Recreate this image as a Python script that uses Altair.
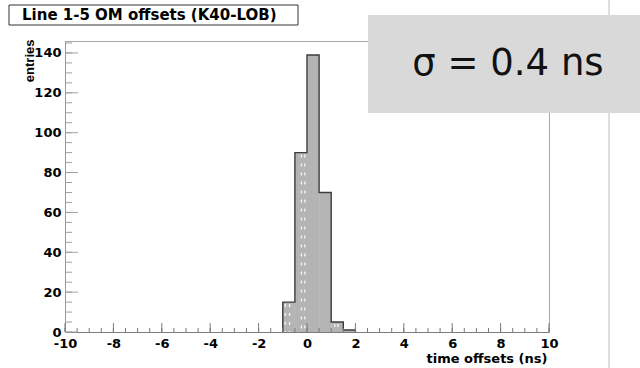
import altair as alt
import numpy as np
import pandas as pd

# Histogram of time offsets: lower bin edges (ns) and entries per bin
bin_lo = [-1.0, -0.5, 0.0, 0.5, 1.0, 1.5]
bin_counts = [15, 90, 139, 70, 5, 1]
bin_width = 0.5

# Light dashed streaks running through some of the bars
streak_x = [-0.9, -0.72, -0.23, -0.09, 1.15, 1.28]
streak_top = [14, 14, 89, 89, 4, 4]

# Axis labels and tick marks
x_labels = [-10, -8, -6, -4, -2, 0, 2, 4, 6, 8, 10]
y_labels = [0, 20, 40, 60, 80, 100, 120, 140]
x_minor = list(np.arange(-10, 10.01, 0.5))
y_minor = list(range(0, 146, 5))

title_text = "Line 1-5 OM offsets (K40-LOB)"
sigma_text = "σ = 0.4 ns"

W, H = 484, 291
FONT = "DejaVu Sans"
YFONT = "Liberation Sans"

bars = pd.DataFrame({
    "lo": bin_lo,
    "hi": [v + bin_width for v in bin_lo],
    "n": bin_counts,
})

# Step outline of the histogram
ox = [bin_lo[0]] + bin_lo + [bin_lo[-1] + bin_width]
oy = [0] + bin_counts + [0]
outline = pd.DataFrame({"x": ox, "y": oy, "i": range(len(ox))})

streaks = pd.DataFrame({"x": streak_x, "top": streak_top})

x_scale = alt.Scale(domain=[-10, 10], nice=False, zero=False)
y_scale = alt.Scale(domain=[0, 146], nice=False)

hist = alt.Chart(bars).mark_rect(color="#b4b4b4").encode(
    x=alt.X("lo:Q", scale=x_scale, axis=alt.Axis(
        values=x_labels, ticks=False, grid=False,
        domainColor="#7a7a7a", domainWidth=1,
        labelFont=FONT, labelFontWeight="bold", labelFontSize=13,
        labelColor="#000000", labelPadding=5, labelFlush=False,
        labelExpr="'' + datum.value",
        title="time offsets (ns)", titleFont=FONT, titleFontWeight="bold",
        titleFontSize=13, titleColor="#000000", titleAlign="right",
        titleAnchor="end", titleX=482, titleY=30, titleBaseline="alphabetic",
    )),
    x2="hi:Q",
    y=alt.Y("n:Q", scale=y_scale, axis=alt.Axis(
        values=y_labels, ticks=False, grid=False,
        domainColor="#9a9a9a", domainWidth=1,
        labelFont=FONT, labelFontWeight="bold", labelFontSize=13,
        labelColor="#000000", labelPadding=4,
        title="entries", titleFont=YFONT, titleFontWeight="bold",
        titleFontSize=13, titleColor="#000000", titleAngle=270,
        titleAlign="right", titleBaseline="alphabetic",
        titleX=-32, titleY=-2,
    )),
    y2=alt.datum(0),
)

streak_layer = alt.Chart(streaks).mark_rule(
    color="#ffffff", strokeWidth=1.3, strokeDash=[3, 6], opacity=0.9
).encode(
    x=alt.X("x:Q", scale=x_scale),
    y=alt.Y("top:Q", scale=y_scale),
    y2=alt.datum(0),
)

outline_layer = alt.Chart(outline).mark_line(
    interpolate="step-after", color="#3c3c3c", strokeWidth=1.4
).encode(
    x=alt.X("x:Q", scale=x_scale),
    y=alt.Y("y:Q", scale=y_scale),
    order="i:Q",
)

def xticks(vals, length, color):
    return alt.Chart(pd.DataFrame({"v": vals})).mark_rule(
        color=color, strokeWidth=1
    ).encode(
        x=alt.X("v:Q", scale=x_scale),
        y=alt.value(H),
        y2=alt.value(H - length),
    )

def yticks(vals, length, color):
    return alt.Chart(pd.DataFrame({"v": vals})).mark_rule(
        color=color, strokeWidth=1
    ).encode(
        y=alt.Y("v:Q", scale=y_scale),
        x=alt.value(0),
        x2=alt.value(length),
    )

tick_layers = [
    xticks(x_minor, 4, "#7a7a7a"),
    xticks(x_labels, 9, "#7a7a7a"),
    yticks(y_minor, 7, "#a0a0a0"),
    yticks(y_labels, 13, "#a0a0a0"),
]

# Title box in the upper left corner
title_box = alt.Chart(pd.DataFrame({"t": [title_text]})).mark_rect(
    fill="#ffffff", stroke="#333333", strokeWidth=1
).encode(
    x=alt.value(-56), x2=alt.value(233), y=alt.value(-36), y2=alt.value(-16)
)
title_label = alt.Chart(pd.DataFrame({"t": [title_text]})).mark_text(
    font=FONT, fontWeight="bold", fontSize=15, align="left",
    baseline="alphabetic", color="#000000"
).encode(x=alt.value(-43), y=alt.value(-21), text="t:N")

# Vertical divider line on the right
divider = alt.Chart(pd.DataFrame({"a": [0]})).mark_rule(
    color="#bdbdbd", strokeWidth=1
).encode(x=alt.value(544), y=alt.value(-41), y2=alt.value(327))

# Grey annotation panel with the fitted width
panel = alt.Chart(pd.DataFrame({"a": [0]})).mark_rect(
    fill="#d9d9d9"
).encode(x=alt.value(303), x2=alt.value(580), y=alt.value(-26), y2=alt.value(72))
panel_text = alt.Chart(pd.DataFrame({"t": [sigma_text]})).mark_text(
    font=FONT, fontSize=37, align="center", baseline="alphabetic",
    color="#111111"
).encode(x=alt.value(443), y=alt.value(34), text="t:N")

chart = alt.layer(
    hist, streak_layer, outline_layer, *tick_layers,
    title_box, title_label, divider, panel, panel_text,
).properties(
    width=W, height=H,
    padding={"left": 65, "top": 41, "right": 91, "bottom": 36},
    autosize=alt.AutoSizeParams(type="none"),
    background="#ffffff",
).configure_view(stroke="#a8a8a8", strokeWidth=1)

chart.save("out.html", embed_options={"renderer": "svg", "actions": False})
